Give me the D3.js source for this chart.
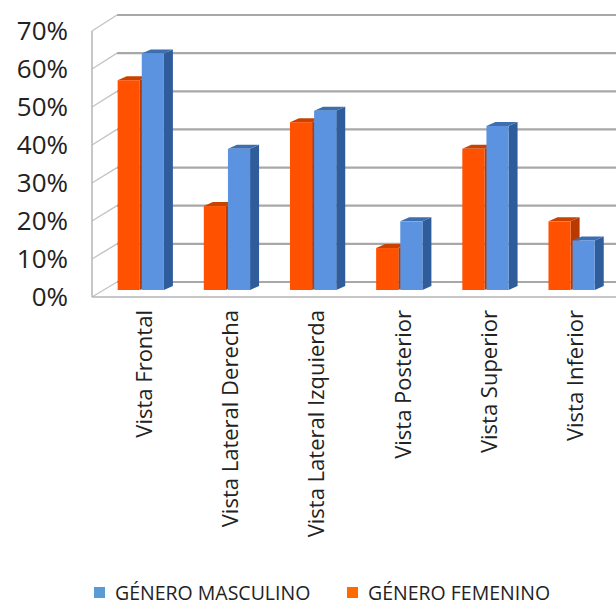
<!DOCTYPE html>
<html>
<head>
<meta charset="utf-8">
<script src="https://cdn.jsdelivr.net/npm/d3@7"></script>
<style>
  body { margin: 0; background: #fff; }
  svg { display: block; }
</style>
</head>
<body>
<div id="chart"></div>
<script>
// data
const categories = ["Vista Frontal", "Vista Lateral Derecha", "Vista Lateral Izquierda",
    "Vista Posterior", "Vista Superior", "Vista Inferior"];
const series = ["GÉNERO FEMENINO", "GÉNERO MASCULINO"];
const femenino = [0.55, 0.22, 0.44, 0.11, 0.37, 0.18];
const masculino = [0.62, 0.37, 0.47, 0.18, 0.43, 0.13];
const yTicks = [0, 0.1, 0.2, 0.3, 0.4, 0.5, 0.6, 0.7];
const legendOrder = ["GÉNERO MASCULINO", "GÉNERO FEMENINO"];

const width = 616, height = 605;
const colors = {
    "GÉNERO FEMENINO": { front: "#ff5100", side: "#b83a00", top: "#c94300", legend: "#ff6a00" },
    "GÉNERO MASCULINO": { front: "#5b93e0", side: "#2f5c9a", top: "#3d6fb0", legend: "#5b9bd5" }
};

const svg = d3.select("#chart").append("svg")
    .attr("width", width)
    .attr("height", height)
    .attr("font-family", "'Open Sans', sans-serif");

// scales: front plane, back wall, and the depth where the bars stand
const yFront = d3.scaleLinear().domain([0, 0.7]).range([297, 31]);
const yBack = d3.scaleLinear().domain([0, 0.7]).range([282, 15]);
const yMid = d3.scaleLinear().domain([0, 0.7]).range([290, 23]);
const xFront = 92, xBack = 117;

const x0 = d3.scaleBand().domain(categories).range([103, 620]);
const x1 = d3.scaleBand().domain(series)
    .range([x0.bandwidth() * 0.17, x0.bandwidth() * 0.73]);
const faceW = x1.bandwidth() - 2;
const dx = 9, dy = -4;

const grid = svg.append("g").attr("stroke", "#a8a8a8").attr("fill", "none");

// back wall gridlines
grid.selectAll("line.h")
    .data(yTicks)
    .join("line")
    .attr("class", "h")
    .attr("x1", xBack).attr("x2", width)
    .attr("y1", d => yBack(d)).attr("y2", d => yBack(d))
    .attr("stroke-width", 2.2);

// side wall lines
grid.selectAll("path.side")
    .data(yTicks)
    .join("path")
    .attr("class", "side")
    .attr("stroke-width", 1.4)
    .attr("stroke", "#c4c4c4")
    .attr("d", d => `M${xFront},${yFront(d)}L${xBack},${yBack(d)}`);

// axes
grid.append("line")
    .attr("x1", xFront).attr("x2", xFront)
    .attr("y1", yFront(0.7)).attr("y2", yFront(0))
    .attr("stroke-width", 1.5).attr("stroke", "#b4b4b4");
grid.append("line")
    .attr("x1", xFront).attr("x2", width)
    .attr("y1", yFront(0)).attr("y2", yFront(0))
    .attr("stroke-width", 1.5).attr("stroke", "#b4b4b4");

// bars
const rows = categories.map((c, i) => ({ cat: c, vals: [
    { s: series[0], v: femenino[i] },
    { s: series[1], v: masculino[i] }
] }));

const groups = svg.append("g").selectAll("g")
    .data(rows)
    .join("g")
    .attr("transform", d => `translate(${x0(d.cat)},0)`);

const bar = groups.selectAll("g")
    .data(d => d.vals)
    .join("g");

bar.append("path")
    .attr("fill", d => colors[d.s].side)
    .attr("d", d => {
        const xl = x1(d.s) + faceW, yt = yMid(d.v), yb = yMid(0);
        return `M${xl},${yt}L${xl + dx},${yt + dy}L${xl + dx},${yb + dy}L${xl},${yb}Z`;
    });
bar.append("path")
    .attr("fill", d => colors[d.s].top)
    .attr("d", d => {
        const xl = x1(d.s), yt = yMid(d.v);
        return `M${xl},${yt}L${xl + dx},${yt + dy}L${xl + faceW + dx},${yt + dy}L${xl + faceW},${yt}Z`;
    });
bar.append("rect")
    .attr("fill", d => colors[d.s].front)
    .attr("x", d => x1(d.s))
    .attr("y", d => yMid(d.v))
    .attr("width", faceW)
    .attr("height", d => yMid(0) - yMid(d.v));

// y labels
svg.append("g").selectAll("text")
    .data(yTicks)
    .join("text")
    .attr("x", 68)
    .attr("y", d => yFront(d))
    .attr("dy", "0.36em")
    .attr("text-anchor", "end")
    .attr("font-size", 26)
    .attr("fill", "#222")
    .text(d3.format(".0%"));

// x labels
svg.append("g").selectAll("text")
    .data(categories)
    .join("text")
    .attr("transform", d => `translate(${x0(d) + x0.bandwidth() / 2 + 6},310) rotate(-90)`)
    .attr("text-anchor", "end")
    .attr("font-size", 22)
    .attr("fill", "#222")
    .text(d => d);

// legend
const legX = [94, 347];
const leg = svg.append("g").selectAll("g")
    .data(legendOrder)
    .join("g")
    .attr("transform", (d, i) => `translate(${legX[i]},587)`);
leg.append("rect")
    .attr("width", 11).attr("height", 11)
    .attr("fill", d => colors[d].legend);
leg.append("text")
    .attr("x", 21).attr("y", 13)
    .attr("font-size", 19.5)
    .attr("fill", "#222")
    .text(d => d);
</script>
</body>
</html>
